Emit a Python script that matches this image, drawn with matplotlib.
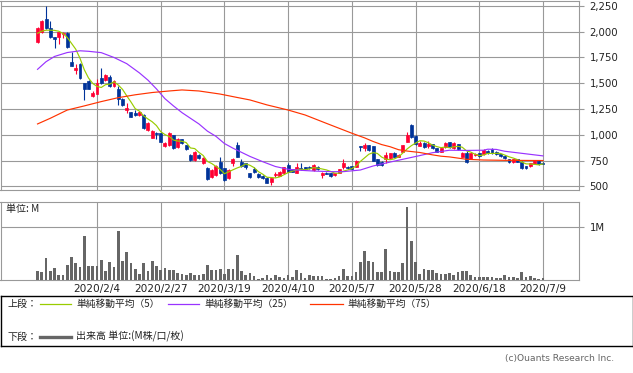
import matplotlib
matplotlib.use('Agg')
import matplotlib.pyplot as plt
import numpy as np

plt.rcParams['font.family'] = ['DejaVu Sans', 'Noto Sans CJK JP']

# ---------------- data ----------------
opens = [1900, 1995, 2124, 2033, 1944, 1952, 1975, 1985, 1709, 1630,
         1690, 1505, 1522, 1373, 1400, 1551, 1532, 1564, 1473, 1441,
         1345, 1240, 1218, 1208, 1192, 1192, 1046, 972, 1020, 1014,
         894, 900, 994, 884, 956, 900, 804, 755, 804, 729,
         675, 593, 610, 739, 675, 578, 723, 900, 739, 723,
         626, 665, 619, 600, 584, 545, 605, 603, 626, 707,
         665, 632, 675, 684, 690, 658, 690, 613, 630, 626,
         605, 630, 685, 690, 697, 690, 891, 869, 901, 891,
         762, 739, 762, 772, 826, 787, 836, 933, 1095, 988,
         894, 923, 890, 910, 869, 836, 878, 927, 872, 910,
         781, 826, 768, 800, 820, 810, 845, 862, 836, 810,
         794, 762, 733, 762, 739, 697, 697, 716, 748, 729]
closes = [2035, 2107, 2039, 1952, 1932, 1995, 1990, 1850, 1670, 1645,
          1554, 1441, 1447, 1405, 1500, 1500, 1580, 1473, 1519, 1345,
          1290, 1262, 1175, 1192, 1224, 1063, 1111, 1040, 1005, 933,
          923, 1014, 868, 956, 923, 859, 755, 836, 772, 772,
          568, 658, 697, 626, 561, 658, 760, 787, 697, 684,
          593, 642, 593, 578, 535, 578, 620, 642, 684, 642,
          642, 690, 668, 665, 675, 707, 665, 626, 620, 600,
          626, 665, 725, 675, 670, 749, 884, 901, 852, 749,
          710, 707, 804, 820, 787, 805, 901, 997, 981, 910,
          923, 884, 915, 869, 836, 869, 917, 878, 917, 858,
          826, 739, 820, 810, 794, 855, 820, 820, 813, 790,
          772, 733, 762, 740, 675, 680, 723, 748, 716, 720]
highs = [2045, 2115, 2250, 2107, 1950, 2000, 2000, 2000, 1806, 1690,
         1700, 1505, 1530, 1420, 1545, 1645, 1590, 1580, 1530, 1470,
         1360, 1305, 1225, 1240, 1235, 1200, 1120, 1045, 1030, 1020,
         930, 1025, 1000, 965, 960, 905, 810, 845, 810, 780,
         690, 665, 705, 780, 680, 665, 770, 933, 760, 730,
         630, 690, 625, 605, 590, 585, 640, 650, 690, 730,
         670, 725, 725, 690, 695, 712, 700, 640, 635, 630,
         630, 670, 760, 695, 700, 755, 894, 920, 905, 895,
         765, 745, 830, 825, 830, 815, 905, 1030, 1100, 995,
         935, 930, 940, 915, 875, 875, 925, 930, 925, 915,
         830, 840, 825, 820, 825, 860, 850, 869, 840, 815,
         800, 765, 765, 765, 742, 700, 730, 752, 752, 732]
lows = [1895, 1990, 2030, 1940, 1840, 1877, 1935, 1845, 1665, 1590,
        1545, 1337, 1440, 1365, 1395, 1495, 1525, 1460, 1465, 1290,
        1280, 1210, 1170, 1180, 1185, 1055, 1040, 965, 960, 925,
        885, 895, 860, 875, 915, 850, 745, 750, 765, 720,
        560, 585, 600, 620, 555, 570, 700, 780, 690, 665,
        585, 630, 585, 570, 530, 513, 590, 600, 620, 635,
        635, 625, 660, 660, 665, 650, 655, 585, 615, 595,
        600, 625, 665, 668, 665, 685, 840, 840, 845, 745,
        700, 700, 730, 765, 780, 780, 830, 930, 970, 905,
        890, 869, 875, 860, 830, 830, 875, 875, 865, 850,
        780, 723, 760, 795, 785, 808, 815, 815, 805, 780,
        765, 725, 725, 732, 670, 665, 690, 712, 710, 715]
volume_m = [0.17, 0.15, 0.41, 0.17, 0.23, 0.095, 0.095, 0.28, 0.44, 0.32,
            0.25, 0.83, 0.27, 0.27, 0.27, 0.38, 0.17, 0.34, 0.25, 0.93,
            0.36, 0.53, 0.32, 0.21, 0.11, 0.32, 0.17, 0.36, 0.27, 0.19,
            0.23, 0.19, 0.19, 0.13, 0.11, 0.095, 0.13, 0.095, 0.095, 0.11,
            0.28, 0.19, 0.19, 0.21, 0.11, 0.21, 0.21, 0.47, 0.17, 0.095,
            0.13, 0.076, 0.02, 0.04, 0.095, 0.04, 0.095, 0.06, 0.04, 0.095,
            0.06, 0.19, 0.13, 0.04, 0.09, 0.076, 0.076, 0.076, 0.02, 0.02,
            0.04, 0.076, 0.21, 0.076, 0.076, 0.15, 0.34, 0.55, 0.36, 0.34,
            0.15, 0.15, 0.59, 0.17, 0.15, 0.15, 0.32, 1.385, 0.74, 0.34,
            0.11, 0.21, 0.19, 0.19, 0.13, 0.11, 0.11, 0.13, 0.095, 0.15,
            0.17, 0.17, 0.095, 0.06, 0.06, 0.06, 0.06, 0.06, 0.04, 0.04,
            0.095, 0.06, 0.06, 0.04, 0.15, 0.06, 0.076, 0.04, 0.02, 0.04]

ma5 = [1985, 2005, 2015, 2015, 2013, 2005, 1982, 1944, 1887, 1830,
       1742, 1632, 1551, 1498, 1469, 1459, 1486, 1492, 1514, 1483,
       1441, 1378, 1318, 1253, 1229, 1183, 1153, 1126, 1089, 1030,
       1002, 983, 949, 939, 937, 924, 872, 866, 829, 799,
       741, 721, 693, 664, 622, 640, 660, 678, 693, 717,
       704, 681, 642, 618, 588, 585, 581, 591, 612, 633,
       646, 660, 665, 661, 668, 681, 676, 668, 659, 644,
       627, 627, 647, 658, 672, 697, 741, 776, 811, 827,
       819, 784, 764, 758, 766, 785, 823, 862, 894, 919,
       942, 939, 923, 900, 885, 875, 881, 874, 883, 888,
       879, 844, 832, 811, 798, 803, 819, 819, 820, 819,
       803, 786, 774, 759, 736, 718, 716, 713, 708, 717]
ma25_idx = [0, 2, 4, 7, 10, 12, 15, 18, 21, 24, 26, 28, 30, 32, 34, 36, 38, 40,
            42, 44, 46, 48, 50, 53, 56, 59, 62, 65, 69, 72, 76, 79, 83, 86, 88,
            90, 93, 97, 101, 105, 106, 108, 110, 112, 114, 117, 119]
ma25 = [1635, 1709, 1760, 1798, 1815, 1810, 1797, 1750, 1690, 1600, 1530, 1445,
        1350, 1280, 1215, 1160, 1105, 1035, 985, 915, 870, 830, 790, 739, 692,
        665, 655, 648, 642, 642, 658, 697, 735, 762, 780, 798, 826, 850, 848,
        850, 860, 858, 840, 830, 820, 805, 795]
ma75_idx = [0, 3, 7, 11, 15, 19, 23, 27, 31, 34, 38, 43, 47, 50, 54, 59, 63, 68,
            71, 74, 77, 79, 81, 83, 85, 87, 90, 93, 95, 97, 101, 105, 110, 119]
ma75 = [1105, 1160, 1240, 1280, 1322, 1360, 1388, 1410, 1425, 1435, 1425, 1395,
        1362, 1338, 1290, 1240, 1192, 1111, 1063, 1015, 970, 935, 905, 884, 855,
        842, 828, 805, 792, 785, 762, 755, 752, 750]

date_label_idx = [14, 29, 44, 59, 74, 89, 104, 119]
date_labels = ['2020/2/4', '2020/2/27', '2020/3/19', '2020/4/10',
               '2020/5/7', '2020/5/28', '2020/6/18', '2020/7/9']
price_ticks = [500, 750, 1000, 1250, 1500, 1750, 2000, 2250]
price_tick_labels = ['500', '750', '1,000', '1,250', '1,500', '1,750', '2,000', '2,250']
vol_ticks = [1.0]
vol_tick_labels = ['1M']

# ---------------- styling ----------------
UP = '#ff0033'
DOWN = '#003399'
C_MA5 = '#99cc00'
C_MA25 = '#9933ff'
C_MA75 = '#ff3300'
GRID = '#999999'
VOLC = '#666666'
CJK = ['Noto Sans CJK JP', 'DejaVu Sans']

W, H = 633, 373
fig = plt.figure(figsize=(W / 100, H / 100), dpi=100)
fig.patch.set_facecolor('white')


def ax_px(x0, y0, x1, y1):
    return fig.add_axes([x0 / W, 1 - y1 / H, (x1 - x0) / W, (y1 - y0) / H])


XMIN, XMAX = -8.72, 127.48

# ---------------- price panel ----------------
ax = ax_px(0.5, 0.5, 579, 190)
n = len(closes)
idx = np.arange(n)
o = np.array(opens, float)
c = np.array(closes, float)
hi = np.array(highs, float)
lo = np.array(lows, float)
cols = [UP if cc >= oo else DOWN for oo, cc in zip(o, c)]

ax.vlines(idx, lo, hi, colors=cols, linewidth=0.8, zorder=3)
ax.bar(idx, np.abs(c - o), bottom=np.minimum(o, c), width=0.7,
       color=cols, edgecolor=cols, linewidth=0.5, zorder=4)
ax.plot(idx, ma5, color=C_MA5, lw=0.85, zorder=5)
ax.plot(ma25_idx, ma25, color=C_MA25, lw=0.85, zorder=5)
ax.plot(ma75_idx, ma75, color=C_MA75, lw=0.85, zorder=5)

ax.set_xlim(XMIN, XMAX)
ax.set_ylim(464, 2303)
ax.set_xticks(date_label_idx)
ax.set_xticklabels([])
ax.tick_params(axis='x', length=0)
ax.set_yticks(price_ticks)
ax.set_yticklabels(price_tick_labels)
ax.yaxis.tick_right()
ax.tick_params(axis='y', direction='out', length=3.6, width=0.8, color=GRID,
               pad=4, labelsize=7.3, labelcolor='#222222')
ax.grid(True, color=GRID, lw=0.8, zorder=0)
ax.set_axisbelow(True)
for s in ax.spines.values():
    s.set_color(GRID)
    s.set_linewidth(0.8)

# ---------------- volume panel ----------------
axv = ax_px(0.5, 202, 579, 280)
axv.bar(idx, volume_m, width=0.63, color=VOLC, zorder=3)
axv.set_xlim(XMIN, XMAX)
axv.set_ylim(0, 1.48)
axv.set_xticks(date_label_idx)
axv.set_xticklabels(date_labels)
axv.tick_params(axis='x', length=0, pad=3, labelsize=7.6, labelcolor='#222222')
axv.set_yticks(vol_ticks)
axv.set_yticklabels(vol_tick_labels)
axv.yaxis.tick_right()
axv.tick_params(axis='y', direction='out', length=3.6, width=0.8, color=GRID,
                pad=4, labelsize=7.3, labelcolor='#222222')
axv.grid(True, color=GRID, lw=0.8, zorder=0)
axv.set_axisbelow(True)
for s in axv.spines.values():
    s.set_color(GRID)
    s.set_linewidth(0.8)
fig.text(6 / W, 1 - 209 / H, '単位: M', ha='left', va='center',
         fontsize=7.2, family=CJK, color='#222222')

# ---------------- legend box ----------------
axl = ax_px(0.5, 295.5, 632.5, 346)
axl.set_xlim(0.5, 632.5)
axl.set_ylim(346, 295.5)
axl.set_xticks([])
axl.set_yticks([])
for s in axl.spines.values():
    s.set_color('black')
    s.set_linewidth(1.0)

ly1, ly2 = 303.5, 336.5
axl.text(7, ly1, '上段：', ha='left', va='center', fontsize=7.2, family=CJK, color='#222222')
axl.plot([40, 71], [ly1, ly1], color=C_MA5, lw=0.9)
axl.text(76, ly1, '単純移動平均（5）', ha='left', va='center', fontsize=7.0, family=CJK, color='#222222')
axl.plot([168, 199], [ly1, ly1], color=C_MA25, lw=0.9)
axl.text(204, ly1, '単純移動平均（25）', ha='left', va='center', fontsize=7.0, family=CJK, color='#222222')
axl.plot([310, 343], [ly1, ly1], color=C_MA75, lw=0.9)
axl.text(347, ly1, '単純移動平均（75）', ha='left', va='center', fontsize=7.0, family=CJK, color='#222222')
axl.text(7, ly2, '下段：', ha='left', va='center', fontsize=7.2, family=CJK, color='#222222')
axl.plot([40, 71], [ly2, ly2], color=VOLC, lw=2.4)
axl.text(76, ly2, '出来高 単位:(M株/口/枚)', ha='left', va='center', fontsize=7.2, family=CJK, color='#222222')

fig.text(614 / W, 1 - 358 / H, '(c)Ouants Research Inc.', ha='right', va='center',
         fontsize=6.6, color='#666666')

fig.savefig('out.png', dpi=100, facecolor='white')
